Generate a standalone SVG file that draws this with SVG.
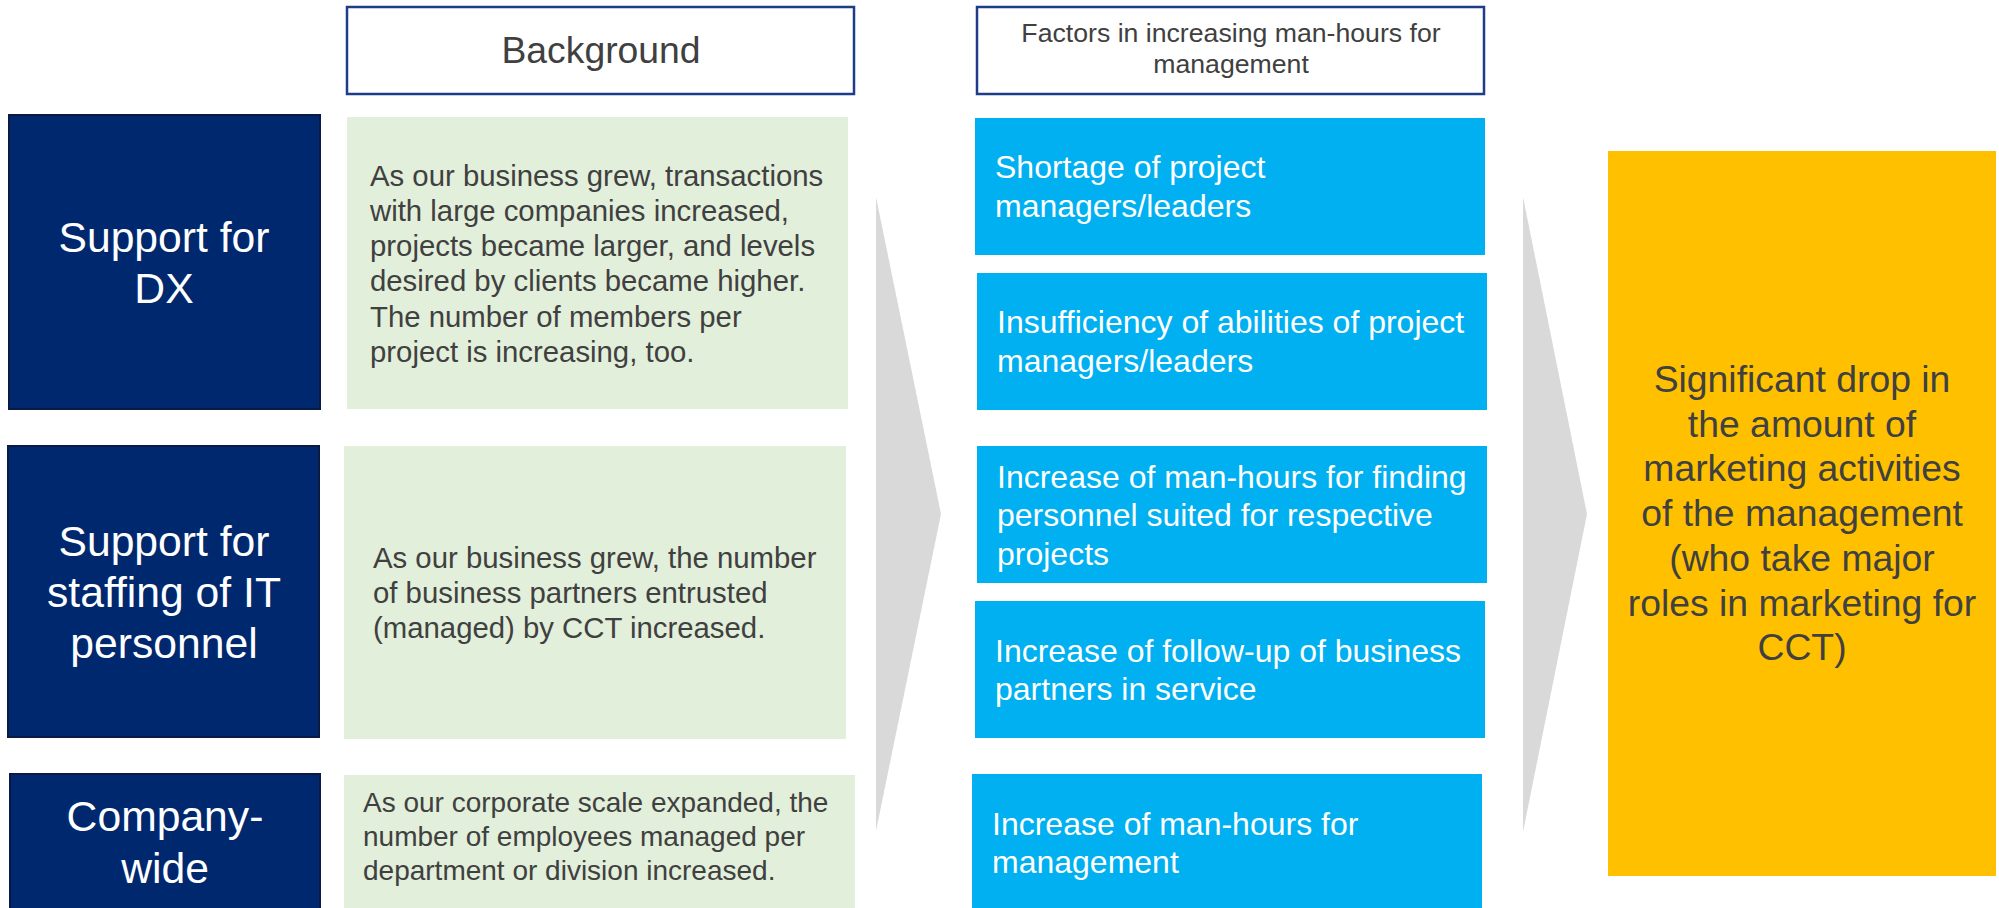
<svg xmlns="http://www.w3.org/2000/svg" width="1999" height="908" viewBox="0 0 1999 908">
<style>
text{font-family:"Liberation Sans",Arial,sans-serif}
.hdr{fill:#fff;stroke:#1F3C88;stroke-width:2.5}
.navy{fill:#00286F;stroke:#0B1A44;stroke-width:2}
.green{fill:#E2EFDA}
.blue{fill:#00B0F0}
.yellow{fill:#FFC000}
.arrow{fill:#D9D9D9}
.tn{font-size:42.67px;fill:#fff;text-anchor:middle}
.tg{font-size:29.33px;fill:#404040}
.tb{font-size:32px;fill:#fff}
.ty{font-size:37.33px;fill:#404040;text-anchor:middle}
</style>
<rect width="1999" height="908" fill="#fff"/>
<g id="connectors">
<polygon class="arrow" points="876,197 941,514 876,831"/>
<polygon class="arrow" points="1523,197 1587,514 1523,832"/>
</g>
<g id="hdr-background">
<rect class="hdr" x="347" y="7" width="507" height="87"/>
<text x="601" y="63" font-size="37.33" fill="#404040" text-anchor="middle">Background</text>
</g>
<g id="hdr-factors">
<rect class="hdr" x="977" y="7" width="507" height="87"/>
<text x="1231" y="42" font-size="26.67" fill="#404040" text-anchor="middle">Factors in increasing man-hours for</text>
<text x="1231" y="73" font-size="26.67" fill="#404040" text-anchor="middle">management</text>
</g>
<g id="cat-dx">
<rect class="navy" x="9" y="115" width="311" height="294"/>
<text class="tn" x="164" y="252">Support for</text>
<text class="tn" x="164" y="303">DX</text>
</g>
<g id="cat-staffing">
<rect class="navy" x="8" y="446" width="311" height="291"/>
<text class="tn" x="164" y="556">Support for</text>
<text class="tn" x="164" y="607">staffing of IT</text>
<text class="tn" x="164" y="658">personnel</text>
</g>
<g id="cat-company">
<rect class="navy" x="10" y="774" width="310" height="145"/>
<text class="tn" x="165" y="831">Company-</text>
<text class="tn" x="165" y="883">wide</text>
</g>
<g id="bg-dx">
<rect class="green" x="347" y="117" width="501" height="292"/>
<text class="tg" x="370" y="186">As our business grew, transactions</text>
<text class="tg" x="370" y="221">with large companies increased,</text>
<text class="tg" x="370" y="256">projects became larger, and levels</text>
<text class="tg" x="370" y="291">desired by clients became higher.</text>
<text class="tg" x="370" y="327">The number of members per</text>
<text class="tg" x="370" y="362">project is increasing, too.</text>
</g>
<g id="bg-staffing">
<rect class="green" x="344" y="446" width="502" height="293"/>
<text class="tg" x="373" y="568">As our business grew, the number</text>
<text class="tg" x="373" y="603">of business partners entrusted</text>
<text class="tg" x="373" y="638">(managed) by CCT increased.</text>
</g>
<g id="bg-company">
<rect class="green" x="344" y="775" width="511" height="140"/>
<text class="tg" x="363" y="812" style="font-size:28px">As our corporate scale expanded, the</text>
<text class="tg" x="363" y="846" style="font-size:28px">number of employees managed per</text>
<text class="tg" x="363" y="880" style="font-size:28px">department or division increased.</text>
</g>
<g id="factor-1">
<rect class="blue" x="975" y="118" width="510" height="137"/>
<text class="tb" x="995" y="178">Shortage of project</text>
<text class="tb" x="995" y="217">managers/leaders</text>
</g>
<g id="factor-2">
<rect class="blue" x="977" y="273" width="510" height="137"/>
<text class="tb" x="997" y="333">Insufficiency of abilities of project</text>
<text class="tb" x="997" y="372">managers/leaders</text>
</g>
<g id="factor-3">
<rect class="blue" x="977" y="446" width="510" height="137"/>
<text class="tb" x="997" y="488">Increase of man-hours for finding</text>
<text class="tb" x="997" y="526">personnel suited for respective</text>
<text class="tb" x="997" y="565">projects</text>
</g>
<g id="factor-4">
<rect class="blue" x="975" y="601" width="510" height="137"/>
<text class="tb" x="995" y="662">Increase of follow-up of business</text>
<text class="tb" x="995" y="700">partners in service</text>
</g>
<g id="factor-5">
<rect class="blue" x="972" y="774" width="510" height="140"/>
<text class="tb" x="992" y="835">Increase of man-hours for</text>
<text class="tb" x="992" y="873">management</text>
</g>
<g id="result">
<rect class="yellow" x="1608" y="151" width="388" height="725"/>
<text class="ty" x="1802" y="392">Significant drop in</text>
<text class="ty" x="1802" y="437">the amount of</text>
<text class="ty" x="1802" y="481">marketing activities</text>
<text class="ty" x="1802" y="526">of the management</text>
<text class="ty" x="1802" y="571">(who take major</text>
<text class="ty" x="1802" y="616">roles in marketing for</text>
<text class="ty" x="1802" y="660">CCT)</text>
</g>
</svg>
